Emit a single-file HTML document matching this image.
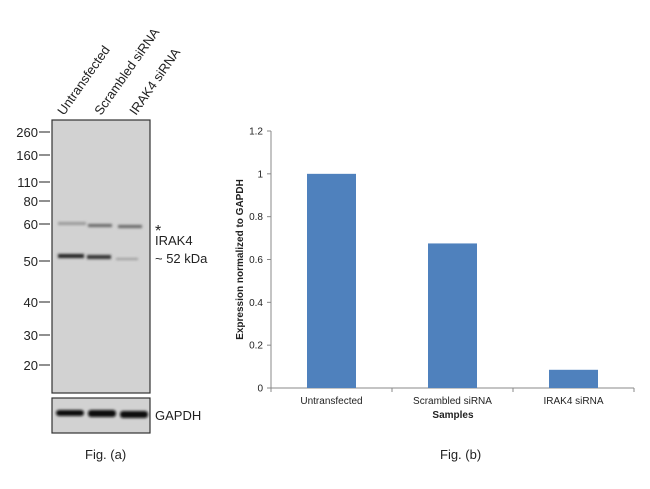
<!DOCTYPE html>
<html><head><meta charset="utf-8"><style>
body{margin:0;background:#fff;}
svg{display:block;font-family:"Liberation Sans",Arial,sans-serif;}
</style></head><body>
<svg width="650" height="489" viewBox="0 0 650 489">
<defs>
<filter id="blur" x="-20%" y="-200%" width="140%" height="500%"><feGaussianBlur stdDeviation="1.2"/></filter>
</defs>
<g>
  <rect x="52" y="120" width="98" height="273" fill="#d2d2d2" stroke="#333" stroke-width="1.2"/>
  <g filter="url(#blur)">
    <rect x="58" y="222" width="28" height="3" fill="#999"/>
    <rect x="88" y="224" width="24" height="3" fill="#666"/>
    <rect x="118" y="225" width="24" height="3" fill="#666"/>
    <rect x="58" y="254" width="26" height="4" fill="#222"/>
    <rect x="87" y="255" width="24" height="4" fill="#333"/>
    <rect x="116" y="258" width="22" height="2" fill="#999"/>
  </g>
  <g font-size="13" fill="#222" text-anchor="end">
    <text x="38" y="137">260</text><line x1="39" y1="132" x2="50" y2="132" stroke="#222"/>
    <text x="38" y="160">160</text><line x1="39" y1="155" x2="50" y2="155" stroke="#222"/>
    <text x="38" y="187">110</text><line x1="39" y1="182" x2="50" y2="182" stroke="#222"/>
    <text x="38" y="206">80</text><line x1="39" y1="201" x2="50" y2="201" stroke="#222"/>
    <text x="38" y="229">60</text><line x1="39" y1="224" x2="50" y2="224" stroke="#222"/>
    <text x="38" y="266">50</text><line x1="39" y1="261" x2="50" y2="261" stroke="#222"/>
    <text x="38" y="307">40</text><line x1="39" y1="302" x2="50" y2="302" stroke="#222"/>
    <text x="38" y="340">30</text><line x1="39" y1="335" x2="50" y2="335" stroke="#222"/>
    <text x="38" y="370">20</text><line x1="39" y1="365" x2="50" y2="365" stroke="#222"/>
  </g>
  <g font-size="13" fill="#222">
    <text transform="translate(64,116) rotate(-55)">Untransfected</text>
    <text transform="translate(101,116) rotate(-55)">Scrambled siRNA</text>
    <text transform="translate(136,116) rotate(-55)">IRAK4 siRNA</text>
  </g>
  <g font-size="13" fill="#222">
    <text x="155" y="236" font-size="16">*</text>
    <text x="155" y="245">IRAK4</text>
    <text x="155" y="263">~ 52 kDa</text>
  </g>
  <rect x="52" y="398" width="98" height="35" fill="#d2d2d2" stroke="#333" stroke-width="1.2"/>
  <g filter="url(#blur)">
    <rect x="56" y="410" width="28" height="6" rx="3" fill="#111"/>
    <rect x="88" y="410" width="28" height="7" rx="3" fill="#111"/>
    <rect x="120" y="411" width="28" height="7" rx="3" fill="#111"/>
  </g>
  <text x="155" y="420" font-size="13" fill="#222">GAPDH</text>
  <text x="85" y="459" font-size="13" fill="#222">Fig. (a)</text>
</g>
<g id="chart"></g>
<text x="440" y="459" font-size="13" fill="#222">Fig. (b)</text>
<script>
const categories = ["Untransfected", "Scrambled siRNA", "IRAK4 siRNA"];
const values = [1.0, 0.675, 0.085];
const yTicks = [0, 0.2, 0.4, 0.6, 0.8, 1, 1.2];
const yTickLabels = ["0", "0.2", "0.4", "0.6", "0.8", "1", "1.2"];

const NS = "http://www.w3.org/2000/svg";
const g = document.getElementById("chart");
const x0 = 271, x1 = 634, yB = 388, yT = 131, yMax = 1.2;
const yS = v => yB - (v / yMax) * (yB - yT);
const band = (x1 - x0) / categories.length;
const xC = i => x0 + band * (i + 0.5);
function mk(tag, attrs, text) {
  const e = document.createElementNS(NS, tag);
  for (const k in attrs) e.setAttribute(k, attrs[k]);
  if (text !== undefined) e.textContent = text;
  g.appendChild(e);
  return e;
}
let e;
e = mk("line", {x1: x0, y1: yT, x2: x0, y2: yB, stroke: "#888"});


e = mk("line", {x1: x0, y1: yB, x2: x1, y2: yB, stroke: "#888"});


yTicks.forEach((t, i) => {
  const y = yS(t);
  e = mk("line", {x1: x0 - 4, y1: y, x2: x0, y2: y, stroke: "#888"});
  
  
  e = mk("text", {x: x0 - 8, y: y + 3.5, "font-size": 10, "text-anchor": "end", fill: "#222"}, yTickLabels[i]);
  
  
});
for (let i = 0; i <= categories.length; i++) {
  const x = x0 + band * i;
  e = mk("line", {x1: x, y1: yB, x2: x, y2: yB + 4, stroke: "#888"});
  
  
}
const bw = 49;
categories.forEach((c, i) => {
  e = mk("rect", {x: xC(i) - bw / 2, y: yS(values[i]), width: bw, height: yB - yS(values[i]), fill: "#4f81bd"});
  
  
  e = mk("text", {x: xC(i), y: yB + 16, "font-size": 10, "text-anchor": "middle", fill: "#222"}, c);
  
  
});
e = mk("text", {x: 453, y: 418, "font-size": 10, "font-weight": "bold", "text-anchor": "middle", fill: "#222"}, "Samples");


e = mk("text", {transform: "translate(243," + ((yT + yB) / 2) + ") rotate(-90)", "font-size": 10, "font-weight": "bold", "text-anchor": "middle", fill: "#222"}, "Expression  normalized to GAPDH");


</script>
</svg>
</body></html>
